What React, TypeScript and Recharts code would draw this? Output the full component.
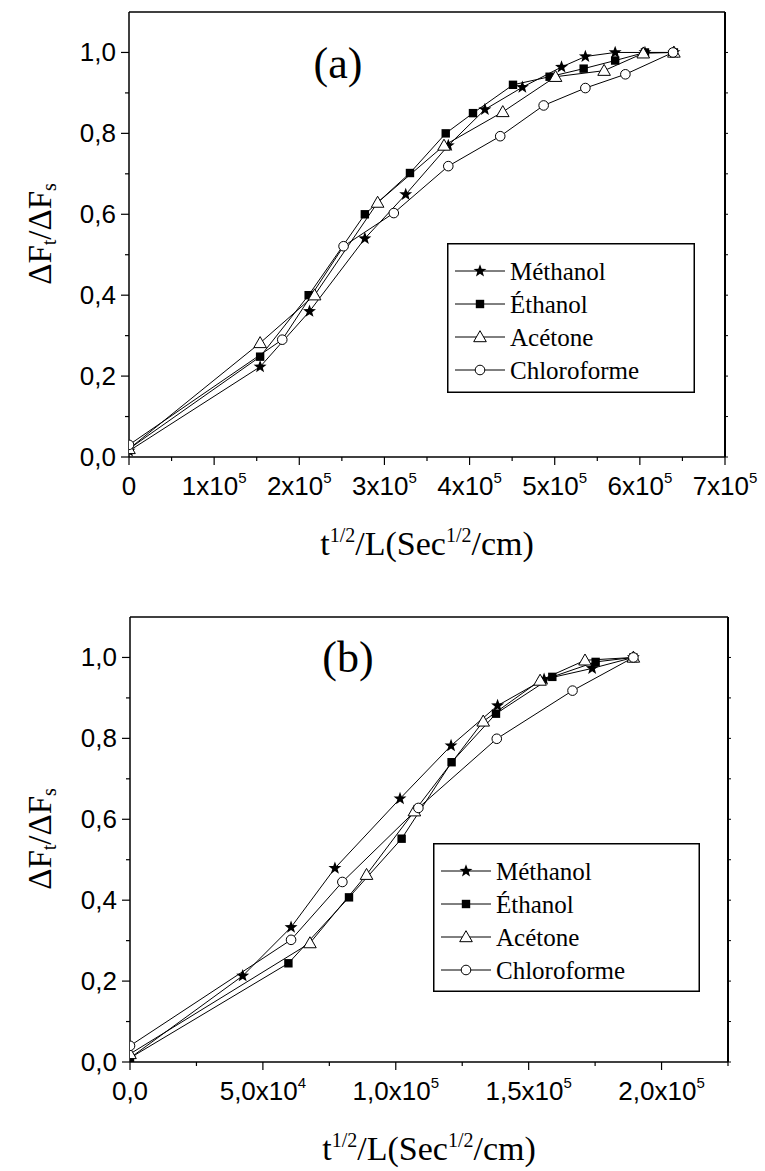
import React from 'react';
import { LineChart, Line, XAxis, YAxis, Legend } from 'recharts';

type Pt = { x: number; y: number };

const SANS = '"Liberation Sans", Arial, sans-serif';
const SERIF = '"Liberation Serif", "Times New Roman", serif';

const SERIES_NAMES = ['Méthanol', 'Éthanol', 'Acétone', 'Chloroforme'];
const MARKERS = ['star', 'square', 'triangle', 'circle'];

// panel (a): x = t^1/2 / L
const aMethanol: Pt[] = [
  { x: 0, y: 0.015 }, { x: 1.54e5, y: 0.223 }, { x: 2.12e5, y: 0.36 }, { x: 2.77e5, y: 0.54 },
  { x: 3.25e5, y: 0.649 }, { x: 3.75e5, y: 0.77 }, { x: 4.18e5, y: 0.859 }, { x: 4.62e5, y: 0.914 },
  { x: 5.08e5, y: 0.964 }, { x: 5.36e5, y: 0.99 }, { x: 5.71e5, y: 1.0 }, { x: 6.06e5, y: 1.0 },
  { x: 6.4e5, y: 1.0 },
];
const aEthanol: Pt[] = [
  { x: 0, y: 0.02 }, { x: 1.54e5, y: 0.248 }, { x: 2.11e5, y: 0.4 }, { x: 2.77e5, y: 0.6 },
  { x: 3.3e5, y: 0.702 }, { x: 3.72e5, y: 0.8 }, { x: 4.04e5, y: 0.85 }, { x: 4.51e5, y: 0.92 },
  { x: 4.94e5, y: 0.94 }, { x: 5.34e5, y: 0.96 }, { x: 5.71e5, y: 0.98 }, { x: 6.06e5, y: 1.0 },
  { x: 6.4e5, y: 1.0 },
];
const aAcetone: Pt[] = [
  { x: 0, y: 0.02 }, { x: 1.54e5, y: 0.282 }, { x: 2.18e5, y: 0.4 }, { x: 2.92e5, y: 0.629 },
  { x: 3.7e5, y: 0.77 }, { x: 4.39e5, y: 0.853 }, { x: 5.01e5, y: 0.94 }, { x: 5.58e5, y: 0.955 },
  { x: 6.04e5, y: 0.998 }, { x: 6.4e5, y: 1.0 },
];
const aChloroforme: Pt[] = [
  { x: 0, y: 0.03 }, { x: 1.8e5, y: 0.29 }, { x: 2.52e5, y: 0.521 }, { x: 3.11e5, y: 0.603 },
  { x: 3.75e5, y: 0.719 }, { x: 4.36e5, y: 0.793 }, { x: 4.87e5, y: 0.869 }, { x: 5.36e5, y: 0.912 },
  { x: 5.83e5, y: 0.946 }, { x: 6.39e5, y: 1.0 },
];

// panel (b)
const bMethanol: Pt[] = [
  { x: 0, y: 0.01 }, { x: 4.24e4, y: 0.213 }, { x: 6.06e4, y: 0.333 }, { x: 7.71e4, y: 0.479 },
  { x: 1.016e5, y: 0.651 }, { x: 1.208e5, y: 0.782 }, { x: 1.383e5, y: 0.881 }, { x: 1.558e5, y: 0.946 },
  { x: 1.739e5, y: 0.973 }, { x: 1.894e5, y: 1.0 },
];
const bEthanol: Pt[] = [
  { x: 0, y: 0.01 }, { x: 5.96e4, y: 0.244 }, { x: 8.24e4, y: 0.407 }, { x: 1.022e5, y: 0.552 },
  { x: 1.21e5, y: 0.741 }, { x: 1.377e5, y: 0.861 }, { x: 1.589e5, y: 0.952 }, { x: 1.752e5, y: 0.989 },
  { x: 1.894e5, y: 1.0 },
];
const bAcetone: Pt[] = [
  { x: 0, y: 0.02 }, { x: 6.77e4, y: 0.294 }, { x: 8.9e4, y: 0.463 }, { x: 1.07e5, y: 0.62 },
  { x: 1.329e5, y: 0.842 }, { x: 1.543e5, y: 0.943 }, { x: 1.712e5, y: 0.993 }, { x: 1.894e5, y: 1.0 },
];
const bChloroforme: Pt[] = [
  { x: 0, y: 0.04 }, { x: 6.06e4, y: 0.302 }, { x: 7.99e4, y: 0.445 }, { x: 1.085e5, y: 0.628 },
  { x: 1.38e5, y: 0.799 }, { x: 1.665e5, y: 0.918 }, { x: 1.894e5, y: 1.0 },
];

const Y_TICKS = [0, 0.1, 0.2, 0.3, 0.4, 0.5, 0.6, 0.7, 0.8, 0.9, 1.0];
const A_X_TICKS = [0, 0.5e5, 1e5, 1.5e5, 2e5, 2.5e5, 3e5, 3.5e5, 4e5, 4.5e5, 5e5, 5.5e5, 6e5, 6.5e5, 7e5];
const A_X_LABELS: Record<number, [string, string]> = {
  0: ['0', ''], 1e5: ['1x10', '5'], 2e5: ['2x10', '5'], 3e5: ['3x10', '5'], 4e5: ['4x10', '5'],
  5e5: ['5x10', '5'], 6e5: ['6x10', '5'], 7e5: ['7x10', '5'],
};
const B_X_TICKS = [0, 2.5e4, 5e4, 7.5e4, 1e5, 1.25e5, 1.5e5, 1.75e5, 2e5, 2.25e5];
const B_X_LABELS: Record<number, [string, string]> = {
  0: ['0,0', ''], 5e4: ['5,0x10', '4'], 1e5: ['1,0x10', '5'], 1.5e5: ['1,5x10', '5'], 2e5: ['2,0x10', '5'],
};

function Marker({ kind, cx, cy }: { kind: string; cx: number; cy: number }) {
  if (kind === 'star') {
    const pts: string[] = [];
    for (let i = 0; i < 10; i++) {
      const r = i % 2 === 0 ? 6.8 : 2.8;
      const a = -Math.PI / 2 + (i * Math.PI) / 5;
      pts.push(`${cx + r * Math.cos(a)},${cy + r * Math.sin(a)}`);
    }
    return <polygon points={pts.join(' ')} fill="#000" />;
  }
  if (kind === 'square') return <rect x={cx - 4.2} y={cy - 4.2} width={8.4} height={8.4} fill="#000" />;
  if (kind === 'triangle')
    return (
      <polygon
        points={`${cx},${cy - 6.3} ${cx + 6.3},${cy + 4.7} ${cx - 6.3},${cy + 4.7}`}
        fill="#fff"
        stroke="#000"
        strokeWidth={1}
      />
    );
  return <circle cx={cx} cy={cy} r={4.8} fill="#fff" stroke="#000" strokeWidth={1} />;
}

const near = (a: number, b: number) => Math.abs(a - b) < 1e-6 * Math.max(1, Math.abs(b));

function xTick(labels: Record<number, [string, string]>) {
  return (p: any) => {
    const { x, y, payload } = p;
    const key = Object.keys(labels).map(Number).find((k) => near(k, payload.value));
    if (key === undefined) return <line x1={x} y1={y} x2={x} y2={y + 4} stroke="#000" strokeWidth={1.2} />;
    const [main, sup] = labels[key];
    return (
      <g>
        <line x1={x} y1={y} x2={x} y2={y + 8} stroke="#000" strokeWidth={1.2} />
        <text x={x} y={y + 38} textAnchor="middle" fontFamily={SANS} fontSize={26} fill="#000">
          {main}
          {sup && (
            <tspan dy={-12} fontSize={15}>
              {sup}
            </tspan>
          )}
        </text>
      </g>
    );
  };
}

const yTick = (p: any) => {
  const { x, y, payload } = p;
  const major = Math.round(payload.value * 10) % 2 === 0;
  if (!major) return <line x1={x} y1={y} x2={x - 4} y2={y} stroke="#000" strokeWidth={1.2} />;
  return (
    <g>
      <line x1={x} y1={y} x2={x - 8} y2={y} stroke="#000" strokeWidth={1.2} />
      <text x={x - 13} y={y + 9} textAnchor="end" fontFamily={SANS} fontSize={26} fill="#000">
        {payload.value.toFixed(1).replace('.', ',')}
      </text>
    </g>
  );
};

const topTick = (p: any) => <line x1={p.x} y1={p.y} x2={p.x} y2={p.y - 3} stroke="#000" strokeWidth={1} />;
const rightTick = (p: any) => <line x1={p.x} y1={p.y} x2={p.x + 3} y2={p.y} stroke="#000" strokeWidth={1} />;

function LegendBox({ width, height }: { width: number; height: number }) {
  return (
    <svg width={width} height={height} style={{ display: 'block' }}>
      <rect x={0.75} y={0.75} width={width - 1.5} height={height - 1.5} fill="#fff" stroke="#000" strokeWidth={1.5} />
      {SERIES_NAMES.map((name, i) => {
        const cy = 28 + i * 33;
        return (
          <g key={name}>
            <line x1={8} y1={cy} x2={58} y2={cy} stroke="#000" strokeWidth={1} />
            <Marker kind={MARKERS[i]} cx={33} cy={cy} />
            <text x={63} y={cy + 8.5} fontFamily={SERIF} fontSize={25} fill="#000">
              {name}
            </text>
          </g>
        );
      })}
    </svg>
  );
}

type PanelProps = {
  tag: string;
  tagX: number;
  tagY: number;
  data: Pt[][];
  xMax: number;
  xTicks: number[];
  xLabels: Record<number, [string, string]>;
  plotLeft: number;
  plotRight: number;
  legend: { left: number; top: number; width: number; height: number };
};

function Panel({ tag, tagX, tagY, data, xMax, xTicks, xLabels, plotLeft, plotRight, legend }: PanelProps) {
  const axisLine = { stroke: '#000', strokeWidth: 1.5 };
  return (
    <LineChart width={765} height={605} margin={{ top: 2, right: 765 - plotRight - 10, bottom: 88, left: plotLeft - 60 }}>
      <XAxis
        xAxisId="b"
        type="number"
        dataKey="x"
        domain={[0, xMax]}
        ticks={xTicks}
        interval={0}
        allowDataOverflow
        height={60}
        tickSize={0}
        tickMargin={0}
        tickLine={false}
        axisLine={axisLine}
        tick={xTick(xLabels)}
        label={{
          content: () => (
            <text x={(plotLeft + plotRight) / 2} y={555} textAnchor="middle" fontFamily={SERIF} fontSize={34} fill="#000">
              t<tspan dy={-13} fontSize={20}>1/2</tspan>
              <tspan dy={13}>/L(Sec</tspan>
              <tspan dy={-13} fontSize={20}>1/2</tspan>
              <tspan dy={13}>/cm)</tspan>
            </text>
          ),
        }}
      />
      <XAxis
        xAxisId="t"
        orientation="top"
        type="number"
        domain={[0, xMax]}
        ticks={xTicks}
        interval={0}
        allowDataOverflow
        height={10}
        tickSize={0}
        tickMargin={0}
        tickLine={false}
        axisLine={axisLine}
        tick={topTick}
        label={{
          content: () => (
            <text x={tagX} y={tagY} textAnchor="middle" dominantBaseline="central" fontFamily={SERIF} fontSize={44} fill="#000">
              {tag}
            </text>
          ),
        }}
      />
      <YAxis
        yAxisId="l"
        type="number"
        domain={[0, 1.1]}
        ticks={Y_TICKS}
        interval={0}
        allowDataOverflow
        width={60}
        tickSize={0}
        tickMargin={0}
        tickLine={false}
        axisLine={axisLine}
        tick={yTick}
        label={{
          content: () => (
            <text
              x={40}
              y={234}
              transform="rotate(-90 40 234)"
              textAnchor="middle"
              dominantBaseline="central"
              fontFamily={SERIF}
              fontSize={33}
              fill="#000"
            >
              ΔF<tspan dy={9} fontSize={20}>t</tspan>
              <tspan dy={-9}>/ΔF</tspan>
              <tspan dy={9} fontSize={20}>s</tspan>
            </text>
          ),
        }}
      />
      <YAxis
        yAxisId="r"
        orientation="right"
        type="number"
        domain={[0, 1.1]}
        ticks={Y_TICKS}
        interval={0}
        allowDataOverflow
        width={10}
        tickSize={0}
        tickMargin={0}
        tickLine={false}
        axisLine={{ stroke: '#000', strokeWidth: 2 }}
        tick={rightTick}
      />
      {data.map((pts, i) => (
        <Line
          key={SERIES_NAMES[i]}
          name={SERIES_NAMES[i]}
          xAxisId="b"
          yAxisId="l"
          data={pts}
          dataKey="y"
          stroke="#000"
          strokeWidth={1}
          activeDot={false}
          isAnimationActive={false}
          dot={(p: any) => <Marker key={`${i}-${p.index}`} kind={MARKERS[i]} cx={p.cx} cy={p.cy} />}
        />
      ))}
      <Legend
        layout="vertical"
        align="center"
        verticalAlign="middle"
        wrapperStyle={{ left: legend.left, top: legend.top, width: legend.width, height: legend.height }}
        content={() => <LegendBox width={legend.width} height={legend.height} />}
      />
    </LineChart>
  );
}

export default function App() {
  return (
    <div style={{ position: 'absolute', left: 0, top: 0, width: 765, height: 1171, background: '#fff' }}>
      <div style={{ position: 'absolute', left: 0, top: 0 }}>
        <Panel
          tag="(a)"
          tagX={338}
          tagY={63}
          data={[aMethanol, aEthanol, aAcetone, aChloroforme]}
          xMax={7e5}
          xTicks={A_X_TICKS}
          xLabels={A_X_LABELS}
          plotLeft={129}
          plotRight={725}
          legend={{ left: 447, top: 243, width: 248, height: 150 }}
        />
      </div>
      <div style={{ position: 'absolute', left: 0, top: 605 }}>
        <Panel
          tag="(b)"
          tagX={348}
          tagY={52}
          data={[bMethanol, bEthanol, bAcetone, bChloroforme]}
          xMax={2.25e5}
          xTicks={B_X_TICKS}
          xLabels={B_X_LABELS}
          plotLeft={130}
          plotRight={728}
          legend={{ left: 433, top: 238, width: 267, height: 149 }}
        />
      </div>
    </div>
  );
}
